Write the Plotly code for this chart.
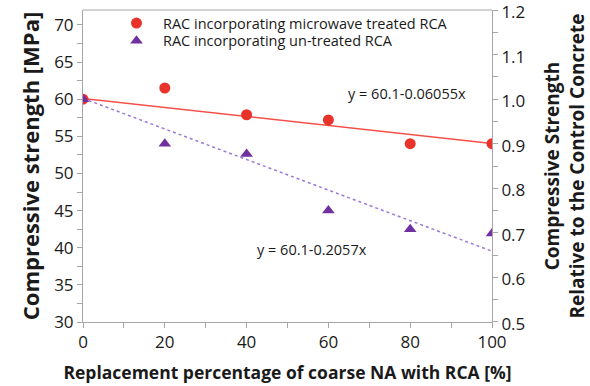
import plotly.graph_objects as go

# Replacement percentage of coarse natural aggregate with RCA [%]
replacement = [0, 20, 40, 60, 80, 100]

# Compressive strength [MPa]
strength_microwave = [60.0, 61.5, 57.9, 57.2, 54.0, 54.0]
strength_untreated = [60.0, 54.0, 52.6, 45.0, 42.5, 41.9]

# Linear fits y = a - b*x
fit_microwave = (60.1, 0.06055)
fit_untreated = (60.1, 0.2057)

control_strength = 60.0

FONT = "Open Sans"
AX_COLOR = "#a6a6a6"
TXT = "#1a1a1a"

red = "#e8332a"
purple = "#7030a0"

fit_x = [replacement[0], replacement[-1]]


def line_of(fit):
    a, b = fit
    return [a - b * x for x in fit_x]


fig = go.Figure()

fig.add_trace(go.Scatter(
    x=fit_x, y=line_of(fit_microwave), mode="lines",
    line=dict(color="#f4504a", width=1.5), showlegend=False, hoverinfo="skip"))
fig.add_trace(go.Scatter(
    x=fit_x, y=line_of(fit_untreated), mode="lines",
    line=dict(color="#9a79d6", width=1.5, dash="dot"), showlegend=False, hoverinfo="skip"))

fig.add_trace(go.Scatter(
    x=replacement, y=strength_microwave, mode="markers",
    name="RAC incorporating microwave treated RCA", legend="legend",
    marker=dict(symbol="circle", size=11, color=red)))
fig.add_trace(go.Scatter(
    x=replacement, y=strength_untreated, mode="markers",
    name="RAC incorporating un-treated RCA", legend="legend2",
    marker=dict(symbol="triangle-up", size=11, color=purple)))

# Invisible trace carrying the secondary (relative) axis
fig.add_trace(go.Scatter(
    x=replacement, y=[v / control_strength for v in strength_microwave],
    yaxis="y2", mode="markers", marker=dict(opacity=0), showlegend=False, hoverinfo="skip"))

y_lo, y_hi = 30, 72

axis_common = dict(
    showline=True, linecolor=AX_COLOR, linewidth=1, mirror=False,
    showgrid=False, zeroline=False, ticks="outside", tickcolor=AX_COLOR,
    ticklen=5, tickfont=dict(family=FONT, size=17, color=TXT),
    ticklabeloverflow="allow", automargin=False,
)

legend_common = dict(
    xanchor="left", yanchor="middle", bgcolor="rgba(0,0,0,0)",
    font=dict(family=FONT, size=14.5, color=TXT), itemwidth=43,
)

fig.update_layout(
    width=590, height=386,
    margin=dict(l=83, r=98, t=10, b=64, autoexpand=False),
    plot_bgcolor="white", paper_bgcolor="white",
    font=dict(family=FONT, color=TXT),
    xaxis=dict(
        **axis_common, range=[0, 100], tick0=0, dtick=20,
        minor=dict(dtick=10, ticks="outside", ticklen=5, tickcolor=AX_COLOR),
        title=dict(text="<b>Replacement percentage of coarse NA with RCA [%]</b>",
                   font=dict(family=FONT, size=17.5, color=TXT), standoff=14),
    ),
    yaxis=dict(
        **axis_common, range=[y_lo, y_hi], tickvals=list(range(30, 71, 5)),
        minor=dict(dtick=2.5, ticks="outside", ticklen=5, tickcolor=AX_COLOR),
        title=dict(text="<b>Compressive strength [MPa]</b>",
                   font=dict(family=FONT, size=22, color=TXT), standoff=8),
    ),
    yaxis2=dict(
        **axis_common, overlaying="y", side="right",
        range=[y_lo / control_strength - 1e-4, y_hi / control_strength + 1e-4],
        tickvals=[0.5, 0.6, 0.7, 0.8, 0.9, 1.0, 1.1, 1.2], tickformat=".1f",
        ticklabelshift=2,
        minor=dict(dtick=0.05, ticks="outside", ticklen=5, tickcolor=AX_COLOR),
        title=dict(text="<b>Compressive Strength<br>Relative to the Control Concrete</b>",
                   font=dict(family=FONT, size=19, color=TXT), standoff=21),
    ),
    legend=dict(**legend_common, x=0.066, y=0.958),
    legend2=dict(**legend_common, x=0.066, y=0.901),
    shapes=[dict(type="line", xref="paper", yref="paper", x0=0, x1=1, y0=1, y1=1,
                 line=dict(color=AX_COLOR, width=1))],
    annotations=[
        dict(x=79.3, y=60.7, xref="x", yref="y", showarrow=False,
             text="y = 60.1-0.06055x", font=dict(family=FONT, size=14.5, color=TXT)),
        dict(x=55.9, y=39.7, xref="x", yref="y", showarrow=False,
             text="y = 60.1-0.2057x", font=dict(family=FONT, size=14.5, color=TXT)),
    ],
)

fig.write_html("out.html")
